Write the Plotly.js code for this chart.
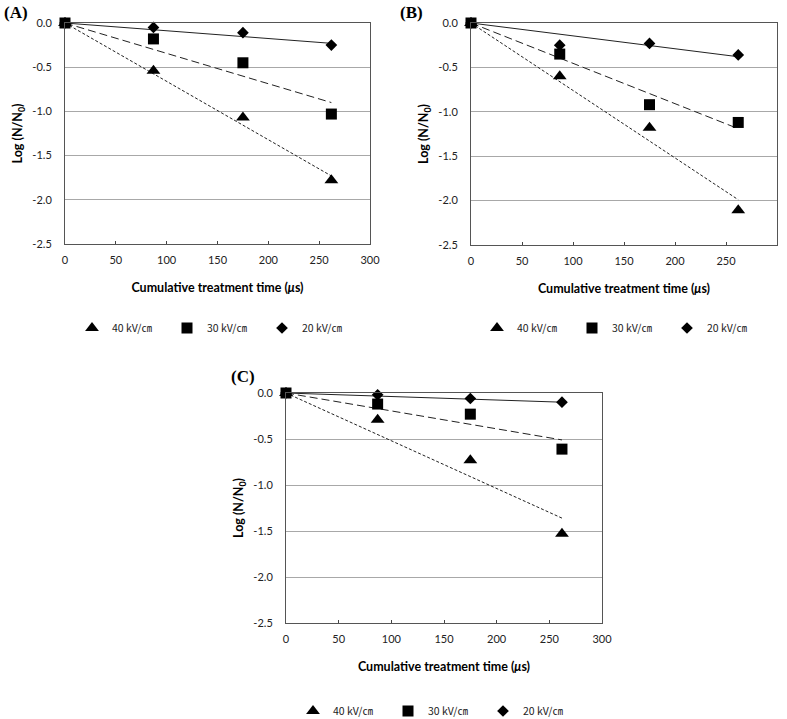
<!DOCTYPE html>
<html>
<head>
<meta charset="utf-8">
<script src="https://cdn.plot.ly/plotly-3.0.1.min.js"></script>
<style>html,body{margin:0;padding:0;background:#fff;}#chart{width:787px;height:719px;}</style>
</head>
<body>
<div id="chart"></div>
<script>
// Cumulative treatment time (µs)
const timeUs = [0, 87, 175, 262];
const trendTime = [0, 262];
const seriesNames = ['40 kV/㎝', '30 kV/㎝', '20 kV/㎝'];

// Panel A
const a40 = [0, -0.54, -1.07, -1.78];
const a30 = [0, -0.18, -0.45, -1.03];
const a20 = [0, -0.05, -0.11, -0.25];
const aTrend40 = [0, -1.73];
const aTrend30 = [0, -0.90];
const aTrend20 = [0, -0.23];

// Panel B
const b40 = [0, -0.60, -1.18, -2.11];
const b30 = [0, -0.35, -0.92, -1.12];
const b20 = [0, -0.25, -0.23, -0.36];
const bTrend40 = [0, -1.99];
const bTrend30 = [0, -1.19];
const bTrend20 = [0, -0.38];

// Panel C
const c40 = [0, -0.29, -0.73, -1.53];
const c30 = [0, -0.12, -0.23, -0.61];
const c20 = [0, -0.02, -0.06, -0.10];
const cTrend40 = [0, -1.36];
const cTrend30 = [0, -0.51];
const cTrend20 = [0, -0.10];

const xTickVals = [0, 50, 100, 150, 200, 250, 300];
const yTickVals = [0, -0.5, -1.0, -1.5, -2.0, -2.5];
const yTickText = ['0.0', '-0.5', '-1.0', '-1.5', '-2.0', '-2.5'];
const panelLabels = ['(A)', '(B)', '(C)'];

const W = 787, H = 719;
const symbols = ['triangle-up', 'square', 'diamond'];
const symSizes = [12, 11, 9];
const dashes = ['3px,2px', '8px,4px', 'solid'];

const panels = [
  {pts: [a40, a30, a20], trends: [aTrend40, aTrend30, aTrend20], xa: 'x', ya: 'y', leg: 'legend'},
  {pts: [b40, b30, b20], trends: [bTrend40, bTrend30, bTrend20], xa: 'x2', ya: 'y2', leg: 'legend2'},
  {pts: [c40, c30, c20], trends: [cTrend40, cTrend30, cTrend20], xa: 'x3', ya: 'y3', leg: 'legend3'}
];

const traces = [];
panels.forEach(p => {
  for (let i = 0; i < 3; i++) {
    traces.push({
      x: trendTime, y: p.trends[i], xaxis: p.xa, yaxis: p.ya,
      mode: 'lines', showlegend: false, hoverinfo: 'skip', cliponaxis: false,
      line: {color: '#222', width: 1, dash: dashes[i]}
    });
  }
  for (let i = 0; i < 3; i++) {
    traces.push({
      x: timeUs, y: p.pts[i], xaxis: p.xa, yaxis: p.ya,
      mode: 'markers', name: seriesNames[i], legend: p.leg, cliponaxis: false,
      marker: {symbol: symbols[i], size: symSizes[i], color: '#000'}
    });
  }
});

function px(x) { return x / W; }
function py(y) { return 1 - y / H; }

const tickFont = {family: 'Lato, "Liberation Sans", sans-serif', size: 11, color: '#222'};
const titleFont = {family: 'Lato, "Liberation Sans", sans-serif', size: 12.5, color: '#000', weight: 'bold'};

function xAxis(dom, anchor) {
  return {
    domain: dom, anchor: anchor, range: [0, 300], automargin: false,
    tickvals: xTickVals, ticks: 'inside', ticklen: 3, tickcolor: '#444',
    showgrid: false, zeroline: false, showline: true, mirror: true,
    linecolor: '#555', linewidth: 1, tickfont: tickFont,
    ticklabelstandoff: 6,
    title: {text: 'Cumulative treatment time (<i>μ</i>s)', font: titleFont, standoff: 18}
  };
}
function yAxis(dom, anchor) {
  return {
    domain: dom, anchor: anchor, range: [-2.5, 0], automargin: false,
    tickvals: yTickVals, ticktext: yTickText, ticks: '',
    showgrid: true, gridcolor: '#a8a8a8', gridwidth: 1,
    zeroline: false, showline: true, mirror: true,
    linecolor: '#555', linewidth: 1, tickfont: tickFont,
    ticklabelstandoff: 10,
    title: {text: 'Log (N/N<sub>0</sub>)', font: titleFont, standoff: 6}
  };
}

const legFont = {family: '"Noto Sans CJK KR", "Noto Sans", sans-serif', size: 10.5, color: '#222'};
function legend(x, y) {
  return {
    x: px(x), y: py(y), xanchor: 'left', yanchor: 'middle',
    orientation: 'h', font: legFont, entrywidth: 50, entrywidthmode: 'pixels',
    bgcolor: 'rgba(0,0,0,0)', itemwidth: 30, tracegroupgap: 0
  };
}

const labelFont = {family: '"Liberation Serif", "DejaVu Serif", serif', size: 17, color: '#000', weight: 'bold'};
const annotations = [
  {text: panelLabels[0], x: px(2), y: py(13), xanchor: 'left', yanchor: 'middle'},
  {text: panelLabels[1], x: px(398), y: py(13), xanchor: 'left', yanchor: 'middle'},
  {text: panelLabels[2], x: px(229), y: py(377), xanchor: 'left', yanchor: 'middle'}
].map(a => Object.assign({xref: 'paper', yref: 'paper', showarrow: false, font: labelFont}, a));

const layout = {
  width: W, height: H,
  margin: {l: 0, r: 0, t: 0, b: 0, autoexpand: false},
  paper_bgcolor: '#fff', plot_bgcolor: '#fff',
  showlegend: true,
  xaxis: xAxis([px(65), px(370)], 'y'),
  yaxis: yAxis([py(244), py(23)], 'x'),
  xaxis2: xAxis([px(471), px(777)], 'y2'),
  yaxis2: yAxis([py(245), py(23)], 'x2'),
  xaxis3: xAxis([px(286), px(602)], 'y3'),
  yaxis3: yAxis([py(623), py(393)], 'x3'),
  legend: legend(72, 328),
  legend2: legend(477, 328),
  legend3: legend(293, 711),
  annotations: annotations
};

Plotly.newPlot('chart', traces, layout, {displayModeBar: false, staticPlot: true});
</script>
</body>
</html>
